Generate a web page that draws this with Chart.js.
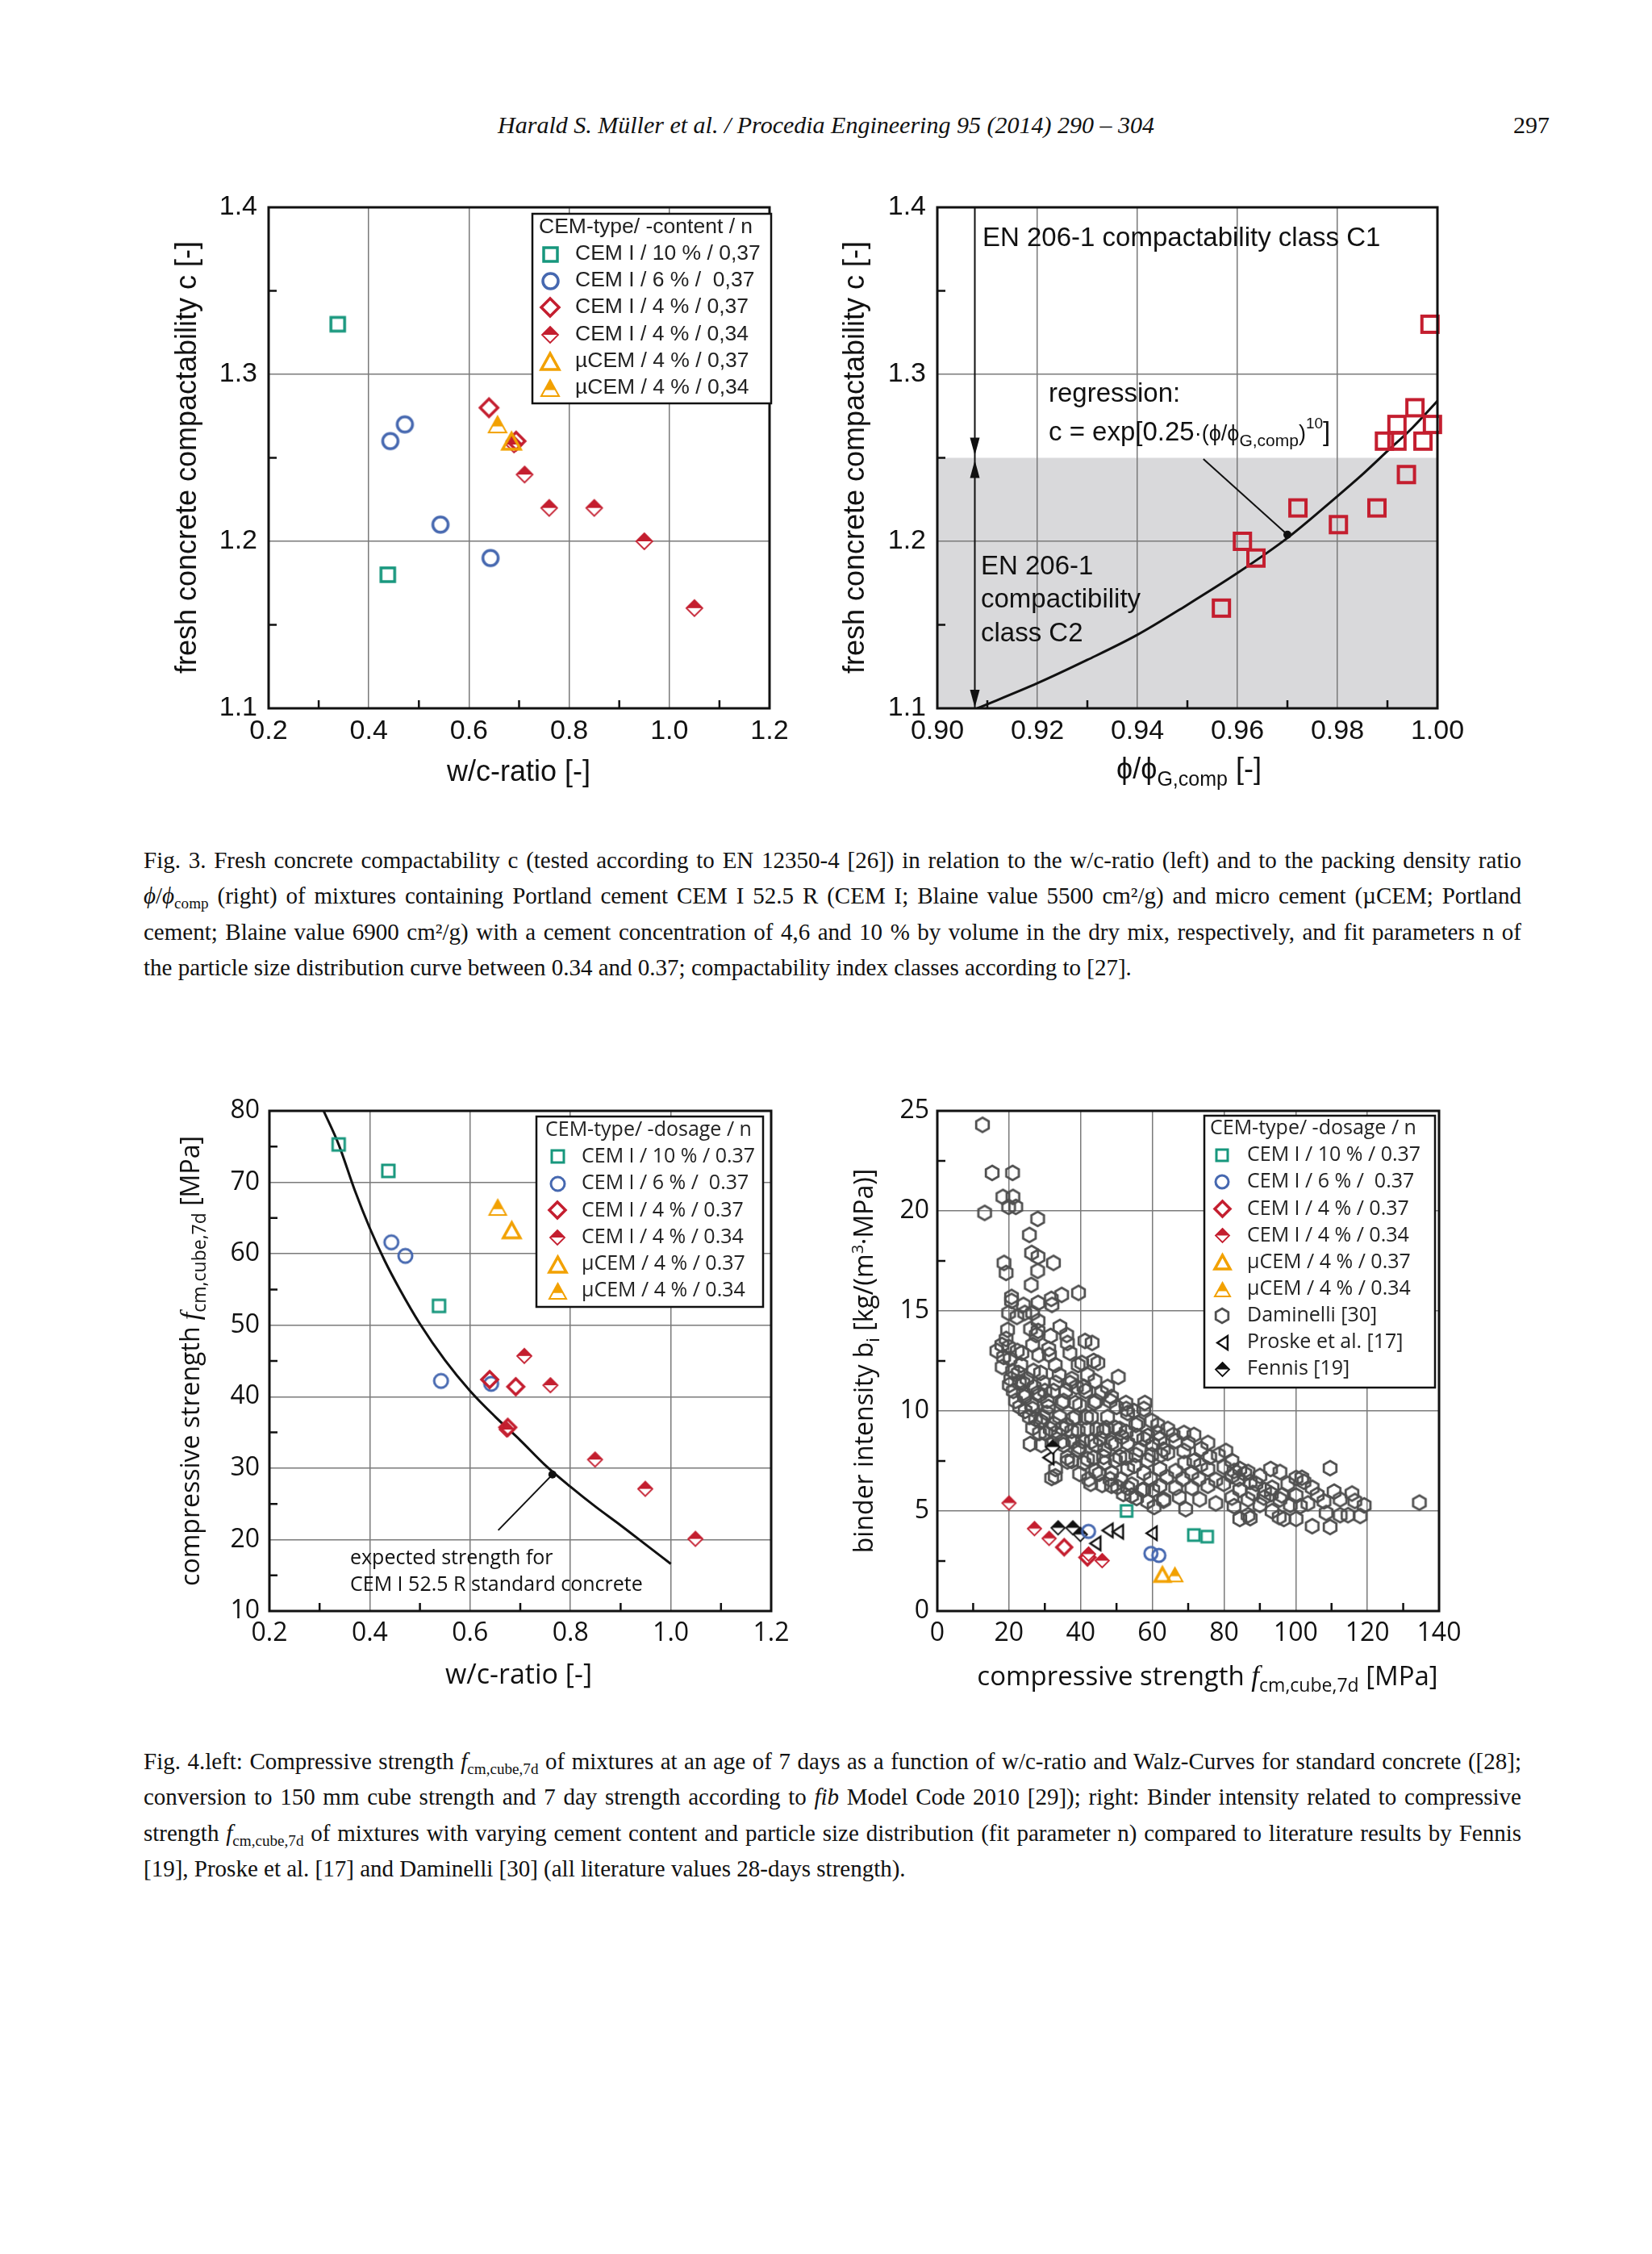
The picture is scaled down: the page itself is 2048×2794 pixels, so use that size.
<!DOCTYPE html>
<html><head><meta charset="utf-8">
<script src="https://cdn.jsdelivr.net/npm/chart.js@4.4.1/dist/chart.umd.min.js"></script>
<style>
html,body{margin:0;padding:0;background:#fff;}
body{width:2048px;height:2794px;position:relative;overflow:hidden;font-family:"Liberation Serif","Times New Roman",serif;color:#111;}
canvas{position:absolute;}
.hdr{position:absolute;top:137px;left:0;width:2048px;text-align:center;font-style:italic;font-size:30px;line-height:35px;}
.pg{position:absolute;top:137px;right:127px;font-size:30px;line-height:35px;}
.cap{position:absolute;left:178px;width:1708px;font-size:29px;}
.cap .l{white-space:nowrap;height:44.4px;line-height:44.4px;}
.cap sub{font-size:0.66em;vertical-align:-0.3em;line-height:0;}
</style></head>
<body>
<div class="hdr">Harald S. Müller et al. / Procedia Engineering 95 (2014) 290 – 304</div>
<div class="pg">297</div>

<canvas id="tl" width="860" height="840" style="left:150px;top:200px"></canvas>
<canvas id="tr" width="860" height="840" style="left:1010px;top:200px"></canvas>
<canvas id="bl" width="860" height="840" style="left:150px;top:1320px"></canvas>
<canvas id="br" width="860" height="840" style="left:1010px;top:1320px"></canvas>

<div class="cap" style="top:1044px">
<div class="l j">Fig. 3. Fresh concrete compactability c (tested according to EN 12350-4 [26]) in relation to the w/c-ratio (left) and to the packing density ratio</div>
<div class="l j"><i>ϕ</i>/<i>ϕ</i><sub>comp</sub> (right) of mixtures containing Portland cement CEM I 52.5 R (CEM I; Blaine value 5500 cm²/g) and micro cement (µCEM; Portland</div>
<div class="l j">cement; Blaine value 6900 cm²/g) with a cement concentration of 4,6 and 10 % by volume in the dry mix, respectively, and fit parameters n of</div>
<div class="l">the particle size distribution curve between 0.34 and 0.37; compactability index classes according to [27].</div>
</div>

<div class="cap" style="top:2161px">
<div class="l j">Fig. 4.left: Compressive strength <i>f</i><sub>cm,cube,7d</sub> of mixtures at an age of 7 days as a function of w/c-ratio and Walz-Curves for standard concrete ([28];</div>
<div class="l j">conversion to 150 mm cube strength and 7 day strength according to <i>fib</i> Model Code 2010 [29]); right: Binder intensity related to compressive</div>
<div class="l j">strength <i>f</i><sub>cm,cube,7d</sub> of mixtures with varying cement content and particle size distribution (fit parameter n) compared to literature results by Fennis</div>
<div class="l">[19], Proske et al. [17] and Daminelli [30] (all literature values 28-days strength).</div>
</div>

<script>
// ---------------- DATA ----------------
// Fig 3 left: compactability vs w/c
const tlCem10X = [0.338, 0.438];            const tlCem10Y = [1.33, 1.18];
const tlCem6X  = [0.443, 0.472, 0.543, 0.643]; const tlCem6Y = [1.26, 1.27, 1.21, 1.19];
const tlCem4oX = [0.640, 0.694];            const tlCem4oY = [1.28, 1.26];
const tlCem4hX = [0.690, 0.711, 0.760, 0.850, 0.950, 1.050]; const tlCem4hY = [1.258, 1.24, 1.22, 1.22, 1.20, 1.16];
const tlMu37X = [0.685]; const tlMu37Y = [1.26];
const tlMu34X = [0.657]; const tlMu34Y = [1.27];
const tlXTicks = [0.2, 0.4, 0.6, 0.8, 1.0, 1.2];
const tlYTicks = [1.1, 1.2, 1.3, 1.4];
const tlMinorX = [0.3, 0.5, 0.7, 0.9, 1.1];
const tlMinorY = [1.15, 1.25, 1.35];

// Fig 3 right: compactability vs packing density ratio
const trX = [0.9985, 0.9955, 0.999, 0.9919, 0.9894, 0.9919, 0.9971, 0.9938, 0.9879, 0.9721, 0.9802, 0.961, 0.9637, 0.9568];
const trY = [1.33, 1.28, 1.27, 1.27, 1.26, 1.26, 1.26, 1.24, 1.22, 1.22, 1.21, 1.20, 1.19, 1.16];
const trCurveX = [0.908, 0.92, 0.93, 0.94, 0.95, 0.96, 0.97, 0.98, 0.985, 0.99, 0.995, 1.00];
const trCurveY = [1.100, 1.115, 1.129, 1.144, 1.162, 1.181, 1.202, 1.227, 1.240, 1.254, 1.268, 1.284];
const trXTicks = [0.90, 0.92, 0.94, 0.96, 0.98, 1.00];
const trYTicks = [1.1, 1.2, 1.3, 1.4];
const trMinorX = [0.91, 0.93, 0.95, 0.97, 0.99];
const trMinorY = [1.15, 1.25, 1.35];
const trClassLimit = 1.25;

// Fig 4 left: compressive strength vs w/c
const blCem10X = [0.338, 0.437, 0.538]; const blCem10Y = [75.3, 71.6, 52.7];
const blCem6X = [0.443, 0.471, 0.542, 0.642]; const blCem6Y = [61.6, 59.7, 42.2, 41.8];
const blCem4oX = [0.639, 0.691, 0.675]; const blCem4oY = [42.4, 41.4, 35.7];
const blCem4hX = [0.708, 0.760, 0.849, 0.949, 1.049, 0.673]; const blCem4hY = [45.7, 41.6, 31.2, 27.1, 20.1, 35.4];
const blMu37X = [0.683]; const blMu37Y = [63.3];
const blMu34X = [0.655]; const blMu34Y = [66.5];
const walzX = [0.308, 0.338, 0.37, 0.40, 0.43, 0.46, 0.50, 0.55, 0.60, 0.65, 0.70, 0.75, 0.80, 0.85, 0.90, 0.95, 1.00];
const walzY = [80.0, 75.3, 68.9, 63.6, 59.0, 55.0, 50.2, 45.1, 40.8, 37.2, 33.9, 30.4, 27.4, 24.6, 22.0, 19.3, 16.6];
const blXTicks = [0.2, 0.4, 0.6, 0.8, 1.0, 1.2];
const blYTicks = [10, 20, 30, 40, 50, 60, 70, 80];
const blMinorX = [0.3, 0.5, 0.7, 0.9, 1.1];
const blMinorY = [15, 25, 35, 45, 55, 65, 75];

// Fig 4 right: binder intensity vs compressive strength
const brCem10X = [52.8, 71.6, 75.3]; const brCem10Y = [5.0, 3.8, 3.72];
const brCem6X = [42.2, 59.6, 61.8]; const brCem6Y = [3.98, 2.88, 2.78];
const brCem4oX = [35.4, 41.9]; const brCem4oY = [3.19, 2.68];
const brCem4hX = [20.0, 27.1, 31.2, 42.2, 46.0]; const brCem4hY = [5.4, 4.12, 3.63, 2.85, 2.52];
const brMu37X = [62.8]; const brMu37Y = [1.82];
const brMu34X = [66.3]; const brMu34Y = [1.82];
const proskeX = [31.0, 47.5, 50.4, 59.8, 44.1]; const proskeY = [7.67, 4.03, 3.96, 3.89, 3.38];
const fennisX = [32.2, 33.7, 37.8, 39.9]; const fennisY = [8.2, 4.16, 4.16, 3.83];
const daminelli = [
[12.6,24.3],[15.3,21.9],[21.0,21.9],[18.3,20.7],[21.1,20.7],[19.9,20.2],[21.9,20.2],[13.2,19.9],[28.0,19.6],[25.7,18.8],
[26.3,17.9],[28.1,17.7],[32.4,17.4],[18.6,17.4],[19.2,16.9],[28.0,17.0],[26.2,16.3],[39.4,15.9],[34.7,15.8],[20.7,15.7],
[20.7,15.5],[28.1,15.4],[31.8,15.6],[32.0,15.3],[19.9,14.9],[22.2,14.7],[24.4,14.9],[26.6,14.9],[28.1,14.5],[19.6,14.05],
[26.0,14.1],[28.1,14.0],[34.2,14.2],[36.1,13.8],[31.6,13.75],[19.2,13.6],[19.9,13.2],[16.6,13.0],[36.3,13.4],[41.2,13.5],
[43.2,13.4],[37.0,12.9],[31.1,13.1],[26.6,13.3],[23.6,12.9],[39.3,12.3],[43.6,12.5],[44.8,12.4],[18.1,12.2],[23.3,12.3],
[28.8,11.9],[32.9,12.3],[50.5,11.7],[24.0,15.3],[27.6,13.8],[22.3,13.0],[31.3,12.8],[28.3,12.8],[40.3,12.4],
[20.5,11.6],[22.9,11.4],[26.8,12.0],[29.6,11.4],[33.0,11.4],[37.5,11.6],[41.9,11.8],[21.2,11.0],[24.0,10.9],[28.5,10.8],
[32.4,11.0],[35.8,11.0],[41.4,11.0],[47.5,11.2],[21.8,10.5],[26.3,10.3],[30.7,10.5],[35.2,10.5],[39.7,10.3],[44.2,10.5],
[48.6,10.7],[52.6,10.4],[57.9,10.4],[25.7,9.7],[29.6,9.7],[34.1,9.7],[38.6,9.7],[43.0,9.7],[47.5,9.7],[53.1,9.9],
[57.6,10.1],[28.5,8.9],[33.0,8.9],[37.5,9.0],[41.9,9.1],[46.4,9.0],[50.9,9.1],[55.4,9.3],[59.8,9.5],[64.3,9.1],
[68.8,8.9],[71.6,8.8],[25.9,8.35],[35.2,8.3],[39.7,8.2],[44.2,8.3],[48.6,8.4],[53.1,8.4],[57.6,8.6],[62.1,8.6],
[66.5,8.5],[75.5,8.4],[80.5,8.0],[37.5,7.5],[41.9,7.6],[46.4,7.7],[50.9,7.7],[55.4,7.8],[59.8,7.8],[64.3,7.9],
[68.8,8.0],[71.6,7.5],[76.0,7.7],[82.2,7.5],[84.4,7.1],[31.9,6.65],[33.0,7.1],[39.7,6.85],[42.8,6.36],[44.2,7.0],
[48.6,6.9],[53.1,7.1],[57.6,6.9],[62.1,7.1],[66.5,7.0],[71.0,6.9],[75.5,7.1],[77.7,6.55],[82.2,6.75],[86.7,6.95],
[90.0,6.75],[93.0,7.1],[95.6,6.95],[48.6,6.26],[53.1,6.16],[57.6,6.06],[62.1,6.26],[66.5,6.16],[71.0,6.16],[75.5,6.26],
[79.9,6.36],[84.4,6.06],[88.9,6.36],[93.4,6.16],[97.8,6.36],[102.3,6.46],[100.1,6.65],[104.6,6.16],[109.6,7.14],[110.7,5.97],
[115.7,5.87],[54.2,5.77],[58.7,5.48],[63.2,5.58],[69.3,5.09],[73.2,5.58],[77.7,5.38],[82.2,5.67],[86.7,5.58],[91.1,5.67],
[95.6,5.58],[100.1,5.77],[103.4,5.38],[107.9,5.48],[112.4,5.58],[119.1,5.28],[134.5,5.42],[84.4,4.6],[86.7,4.79],[93.4,4.99],
[96.7,4.6],[100.1,4.6],[104.6,4.24],[109.6,4.2],[112.4,4.79],[114.6,4.79],[118.0,4.75],
[23.9,11.4],[28.1,10.9],[24.3,10.7],[26.6,10.1],[28.8,9.49],[31.0,10.2],[34.8,10.4],[37.0,11.4],[38.5,10.4],[40.9,11.2],
[43.8,10.4],[41.6,9.69],[48.2,10.5],[52.7,10.1],[26.6,9.15],[30.3,8.88],[32.5,9.35],[34.8,9.15],[37.8,9.62],[39.3,9.0],
[44.5,9.08],[47.1,9.15],[49.7,9.15],[52.7,8.95],[55.7,8.75],[58.7,8.75],[61.6,8.88],[34.8,8.48],[37.8,8.48],[39.3,8.07],
[43.0,8.48],[46.7,8.07],[49.7,8.34],[56.4,8.07],[60.1,8.34],[63.1,8.07],[36.3,7.67],[40.9,7.40],[43.7,7.67],[46.7,7.40],
[49.7,7.53],[52.7,7.67],[55.0,7.26],[58.7,7.53],[62.4,7.80],[42.2,6.59],[45.2,6.86],[48.2,6.59],[51.2,6.59],[54.2,6.32],
[57.2,6.05],[60.1,6.05],[63.1,5.51],[55.6,5.65],[51.9,5.85],[32.9,6.73],[36.3,7.47],
[101.7,6.66],[101.3,5.24],[95.4,4.70],[96.1,5.78],[93.2,5.85],[91.3,6.05],[87.3,6.46],[85.8,6.86],[87.3,4.64],[82.8,5.24],[82.8,7.0],
[18.0,13.3],[18.5,12.7],[20.3,12.6],[21.0,12.0],[20.1,11.3],[22.6,11.9],[25.0,11.6],[27.0,11.2],[30.0,11.0],[34.0,11.8],
[38.8,11.2],[44.0,11.5],[45.8,10.9],[50.0,10.2],[54.8,10.0],[56.0,9.4],[61.5,9.3],[65.8,8.8],[70.0,8.4],[73.6,8.1],
[78.4,7.8],[80.0,7.2],[84.0,6.6],[88.0,5.9],[90.0,5.3],[98.5,5.3],[106.0,5.8],[108.5,4.9],[116.5,5.5],[31.5,9.1],
[36.0,9.3],[27.4,9.6],[30.5,9.9],[24.5,10.0],[23.0,10.2],[32.0,8.4],[29.0,8.3],[45.5,8.6],[51.5,8.7],[40.5,8.5],
[46.0,6.3],[50.3,6.2],[59.5,6.6],[64.0,6.7],[68.5,6.6],[73.0,6.6],[67.5,5.7],[60.5,5.2],[69.0,7.4],[73.5,7.3]
];
const brXTicks = [0, 20, 40, 60, 80, 100, 120, 140];
const brYTicks = [0, 5, 10, 15, 20, 25];
const brMinorX = [10, 30, 50, 70, 90, 110, 130];
const brMinorY = [2.5, 7.5, 12.5, 17.5, 22.5];

// ---------------- STYLE ----------------
const TEAL = '#17977d', BLUE = '#4668b0', RED = '#c41e2f', ORANGE = '#f2a100', GRAY = '#505050', BLK = '#111';
const SANS_T = '"Liberation Sans", Arial, sans-serif';
const SANS_B = '"Open Sans", "Noto Sans", sans-serif';
const SERIF = '"Liberation Serif", "Times New Roman", serif';
const OFF = {tl:{x:150,y:200}, tr:{x:1010,y:200}, bl:{x:150,y:1320}, br:{x:1010,y:1320}};

function mk(shape, size, color, lw){
  const pad = Math.ceil(lw) + 2;
  const dim = Math.ceil(size) + 2*pad;
  const cv = document.createElement('canvas'); cv.width = dim; cv.height = dim;
  const g = cv.getContext('2d'); const h = dim/2, r = size/2;
  g.lineWidth = lw; g.strokeStyle = color; g.fillStyle = color; g.lineJoin = 'miter';
  const poly = p => { g.beginPath(); p.forEach((q,i)=> i ? g.lineTo(h+q[0],h+q[1]) : g.moveTo(h+q[0],h+q[1])); g.closePath(); };
  const dia = [[0,-r],[r,0],[0,r],[-r,0]];
  const th = size*0.9; const tri = [[0,-th/2],[r,th/2],[-r,th/2]];
  switch(shape){
    case 'square': g.strokeRect(h-r,h-r,size,size); break;
    case 'circle': g.beginPath(); g.arc(h,h,r,0,Math.PI*2); g.stroke(); break;
    case 'diamond': poly(dia); g.stroke(); break;
    case 'halfDiamond': poly(dia); g.fillStyle='#fff'; g.fill(); g.fillStyle=color; poly([[0,-r],[r,0],[-r,0]]); g.fill(); poly(dia); g.stroke(); break;
    case 'triangle': poly(tri); g.stroke(); break;
    case 'halfTriangle': { poly(tri); g.fillStyle='#fff'; g.fill(); g.fillStyle=color; const f=0.62; poly([[0,-th/2],[r*f,-th/2+th*f],[-r*f,-th/2+th*f]]); g.fill(); poly(tri); g.stroke(); break; }
    case 'hexagon': poly([0,1,2,3,4,5].map(k=>{const a=-Math.PI/2+k*Math.PI/3; return [r*Math.cos(a), r*Math.sin(a)];})); g.stroke(); break;
    case 'leftTriangle': poly([[-r*0.75,0],[r*0.75,-r],[r*0.75,r]]); g.stroke(); break;
  }
  return cv;
}

function fontStr(s){ return (s.style||'normal')+' '+s.size+'px '+(s.family); }
function drawRich(ctx, segs, x, y, rot, align){
  ctx.save();
  let w = 0;
  segs.forEach(s => { ctx.font = fontStr(s); s._w = ctx.measureText(s.t).width; w += s._w; });
  ctx.translate(x, y);
  if (rot) ctx.rotate(-Math.PI/2);
  let cx = align === 'left' ? 0 : -w/2;
  ctx.textBaseline = 'alphabetic'; ctx.textAlign = 'left'; ctx.fillStyle = BLK;
  segs.forEach(s => { ctx.font = fontStr(s); ctx.fillText(s.t, cx, s.dy||0); cx += s._w; });
  ctx.restore();
}
function drawLegend(ctx, L, off){
  ctx.save();
  ctx.fillStyle = '#fff'; ctx.fillRect(L.x-off.x, L.y-off.y, L.w, L.h);
  ctx.lineWidth = 2.5; ctx.strokeStyle = BLK; ctx.strokeRect(L.x-off.x, L.y-off.y, L.w, L.h);
  ctx.font = L.font; ctx.textBaseline = 'middle'; ctx.textAlign = 'left'; ctx.fillStyle = '#222';
  ctx.fillText(L.title, L.titleX-off.x, L.titleY-off.y);
  L.items.forEach((it,i)=>{
    ctx.drawImage(it.m, Math.round(L.symX-off.x-it.m.width/2), Math.round(L.rows[i]-off.y-it.m.height/2));
    ctx.fillText(it.label, L.textX-off.x, L.rows[i]-off.y);
  });
  ctx.restore();
}
function minor(c, xs, ys, len){
  const ctx = c.ctx, a = c.chartArea, sx = c.scales.x, sy = c.scales.y;
  ctx.save(); ctx.strokeStyle = BLK; ctx.lineWidth = 2.5; ctx.beginPath();
  xs.forEach(v=>{ const p = sx.getPixelForValue(v); ctx.moveTo(p, a.bottom); ctx.lineTo(p, a.bottom-len); });
  ys.forEach(v=>{ const p = sy.getPixelForValue(v); ctx.moveTo(a.left, p); ctx.lineTo(a.left+len, p); });
  ctx.stroke(); ctx.restore();
}
function frame(c){
  const ctx = c.ctx, a = c.chartArea;
  ctx.save(); ctx.strokeStyle = BLK; ctx.lineWidth = 3; ctx.strokeRect(a.left, a.top, a.right-a.left, a.bottom-a.top); ctx.restore();
}
function pointer(c, x0, y0, x1, y1){
  const ctx = c.ctx, sx = c.scales.x, sy = c.scales.y;
  const X0 = sx.getPixelForValue(x0), Y0 = sy.getPixelForValue(y0), X1 = sx.getPixelForValue(x1), Y1 = sy.getPixelForValue(y1);
  ctx.save(); ctx.strokeStyle = BLK; ctx.fillStyle = BLK; ctx.lineWidth = 2;
  ctx.beginPath(); ctx.moveTo(X0,Y0); ctx.lineTo(X1,Y1); ctx.stroke();
  ctx.beginPath(); ctx.arc(X1,Y1,5,0,Math.PI*2); ctx.fill(); ctx.restore();
}

function scaleCfg(o){
  return {
    type:'linear', min:o.min, max:o.max,
    afterBuildTicks: s => { s.ticks = o.ticks.map(v => ({value:v})); },
    afterFit: s => { if (o.horiz) s.height = o.size; else s.width = o.size; },
    grid: { color: '#7a7a7a', lineWidth: 1.5, drawTicks: false },
    border: { display: false },
    ticks: { autoSkip:false, maxRotation:0, minRotation:0, padding:o.pad, color:BLK, font:o.font, callback: v => o.fmt(v) }
  };
}
const pts = (xs, ys) => xs.map((x,i) => ({x, y:ys[i]}));
const ds = (data, m, order) => ({data, pointStyle:m, pointRadius:8, pointHoverRadius:8, showLine:false, clip:false, order:order||0});
const curve = (data, order) => ({data, showLine:true, borderColor:BLK, borderWidth:3, pointRadius:0, cubicInterpolationMode:'monotone', fill:false, order:order||5});

function baseOpts(padTop, padRight){
  return {
    responsive:false, animation:false, devicePixelRatio:1, events:[],
    layout:{ padding:{ left:0, top:padTop, right:padRight, bottom:0 } },
    plugins:{ legend:{display:false}, tooltip:{enabled:false} }
  };
}

// ---------------- TOP LEFT ----------------
(function(){
  const M = {
    sq: mk('square',17,TEAL,3.5), ci: mk('circle',19,BLUE,3.5), di: mk('diamond',22,RED,3.5),
    hd: mk('halfDiamond',20,RED,1.8), tr: mk('triangle',22,ORANGE,3.5), ht: mk('halfTriangle',22,ORANGE,2)
  };
  const off = OFF.tl;
  const opts = baseOpts(57, 56);
  const f = {family:SANS_T, size:34};
  opts.scales = {
    x: scaleCfg({min:0.2, max:1.2, ticks:tlXTicks, fmt:v=>v.toFixed(1), horiz:true, size:162, pad:8, font:f}),
    y: scaleCfg({min:1.1, max:1.4, ticks:tlYTicks, fmt:v=>v.toFixed(1), horiz:false, size:183, pad:14, font:f})
  };
  const L = { x:660, y:265, w:296, h:235, font:'26.5px '+SANS_T, title:'CEM-type/ -content / n', titleX:668, titleY:282,
    symX:682, textX:713, rows:[315,348,381,415,448,481],
    items:[{m:M.sq,label:'CEM I / 10 % / 0,37'},{m:M.ci,label:'CEM I / 6 % /  0,37'},{m:M.di,label:'CEM I / 4 % / 0,37'},
           {m:M.hd,label:'CEM I / 4 % / 0,34'},{m:M.tr,label:'µCEM / 4 % / 0,37'},{m:M.ht,label:'µCEM / 4 % / 0,34'}]};
  new Chart(document.getElementById('tl'), {
    type:'scatter',
    data:{ datasets:[ ds(pts(tlCem10X,tlCem10Y),M.sq), ds(pts(tlCem6X,tlCem6Y),M.ci), ds(pts(tlCem4hX,tlCem4hY),M.hd,2),
                      ds(pts(tlCem4oX,tlCem4oY),M.di,1), ds(pts(tlMu37X,tlMu37Y),M.tr), ds(pts(tlMu34X,tlMu34Y),M.ht) ] },
    options: opts,
    plugins:[{ id:'deco', afterDraw(c){
      const ctx = c.ctx;
      minor(c, tlMinorX, tlMinorY, 10); frame(c); drawLegend(ctx, L, off);
      drawRich(ctx, [{t:'fresh concrete compactability c [-]', size:36, family:SANS_T}], 243-off.x, 567-off.y, true);
      drawRich(ctx, [{t:'w/c-ratio [-]', size:36, family:SANS_T}], 643-off.x, 968-off.y, false);
    }}]
  });
})();

// ---------------- TOP RIGHT ----------------
(function(){
  const sq = mk('square',20,RED,4);
  const off = OFF.tr;
  const opts = baseOpts(57, 88);
  const f = {family:SANS_T, size:34};
  opts.scales = {
    x: scaleCfg({min:0.9, max:1.0, ticks:trXTicks, fmt:v=>v.toFixed(2), horiz:true, size:162, pad:8, font:f}),
    y: scaleCfg({min:1.1, max:1.4, ticks:trYTicks, fmt:v=>v.toFixed(1), horiz:false, size:152, pad:14, font:f})
  };
  new Chart(document.getElementById('tr'), {
    type:'scatter',
    data:{ datasets:[ ds(pts(trX,trY),sq,0), curve(pts(trCurveX,trCurveY),5) ] },
    options: opts,
    plugins:[{ id:'deco',
      beforeDraw(c){
        const ctx = c.ctx, a = c.chartArea, sy = c.scales.y;
        const yT = sy.getPixelForValue(trClassLimit);
        ctx.save(); ctx.fillStyle = '#d9d9db'; ctx.fillRect(a.left, yT, a.right-a.left, a.bottom-yT); ctx.restore();
      },
      afterDraw(c){
        const ctx = c.ctx, sx = c.scales.x, sy = c.scales.y;
        minor(c, trMinorX, trMinorY, 10);
        const ax = sx.getPixelForValue(0.9075), yTop = sy.getPixelForValue(1.4), yMid = sy.getPixelForValue(1.25), yBot = sy.getPixelForValue(1.1);
        ctx.save(); ctx.strokeStyle = BLK; ctx.fillStyle = BLK; ctx.lineWidth = 2;
        ctx.beginPath(); ctx.moveTo(ax, yTop); ctx.lineTo(ax, yBot); ctx.stroke();
        const head = (y, dir) => { ctx.beginPath(); ctx.moveTo(ax, y); ctx.lineTo(ax-6, y-dir*22); ctx.lineTo(ax+6, y-dir*22); ctx.closePath(); ctx.fill(); };
        head(yMid-3, 1); head(yMid+3, -1); head(yBot-1, 1);
        ctx.restore();
        pointer(c, 0.9532, 1.2493, 0.970, 1.204);
        frame(c);
        const T = s => ({t:s, size:33, family:SANS_T});
        drawRich(ctx, [T('EN 206-1 compactability class C1')], 1218-off.x, 305-off.y, false, 'left');
        drawRich(ctx, [T('regression:')], 1300-off.x, 498-off.y, false, 'left');
        drawRich(ctx, [T('c = exp[0.25'), {t:'·(ϕ/ϕ', size:27, family:SANS_T}, {t:'G,comp', size:21, family:SANS_T, dy:7},
                       {t:')', size:27, family:SANS_T}, {t:'10', size:19, family:SANS_T, dy:-15}, T(']')], 1300-off.x, 546-off.y, false, 'left');
        drawRich(ctx, [T('EN 206-1')], 1216-off.x, 712-off.y, false, 'left');
        drawRich(ctx, [T('compactibility')], 1216-off.x, 753-off.y, false, 'left');
        drawRich(ctx, [T('class C2')], 1216-off.x, 795-off.y, false, 'left');
        drawRich(ctx, [{t:'fresh concrete compactability c [-]', size:36, family:SANS_T}], 1071-off.x, 567-off.y, true);
        drawRich(ctx, [{t:'ϕ/ϕ', size:36, family:SANS_T}, {t:'G,comp', size:25, family:SANS_T, dy:9}, {t:' [-]', size:36, family:SANS_T}], 1474-off.x, 965-off.y, false);
      }}]
  });
})();

// ---------------- BOTTOM LEFT ----------------
(function(){
  const M = {
    sq: mk('square',15,TEAL,3), ci: mk('circle',17,BLUE,3), di: mk('diamond',20,RED,3.5),
    hd: mk('halfDiamond',18,RED,1.8), tr: mk('triangle',21,ORANGE,3.5), ht: mk('halfTriangle',21,ORANGE,2)
  };
  const off = OFF.bl;
  const opts = baseOpts(57, 54);
  const f = {family:SANS_B, size:32};
  opts.scales = {
    x: scaleCfg({min:0.2, max:1.2, ticks:blXTicks, fmt:v=>v.toFixed(1), horiz:true, size:163, pad:9, font:f}),
    y: scaleCfg({min:10, max:80, ticks:blYTicks, fmt:v=>String(v), horiz:false, size:184, pad:12, font:f})
  };
  const L = { x:665, y:1384, w:281, h:236, font:'25px '+SANS_B, title:'CEM-type/ -dosage / n', titleX:676, titleY:1401,
    symX:691, textX:721, rows:[1433.5,1467,1500.4,1534,1567,1600],
    items:[{m:M.sq,label:'CEM I / 10 % / 0.37'},{m:M.ci,label:'CEM I / 6 % /  0.37'},{m:M.di,label:'CEM I / 4 % / 0.37'},
           {m:M.hd,label:'CEM I / 4 % / 0.34'},{m:M.tr,label:'µCEM / 4 % / 0.37'},{m:M.ht,label:'µCEM / 4 % / 0.34'}]};
  new Chart(document.getElementById('bl'), {
    type:'scatter',
    data:{ datasets:[ ds(pts(blCem10X,blCem10Y),M.sq,1), ds(pts(blCem6X,blCem6Y),M.ci,2), ds(pts(blCem4hX,blCem4hY),M.hd,1),
                      ds(pts(blCem4oX,blCem4oY),M.di,0), ds(pts(blMu37X,blMu37Y),M.tr,0), ds(pts(blMu34X,blMu34Y),M.ht,0),
                      curve(pts(walzX,walzY),5) ] },
    options: opts,
    plugins:[{ id:'deco', afterDraw(c){
      const ctx = c.ctx;
      minor(c, blMinorX, blMinorY, 10);
      pointer(c, 0.656, 21.3, 0.764, 29.1);
      frame(c); drawLegend(ctx, L, off);
      drawRich(ctx, [{t:'expected strength for', size:25, family:SANS_B}], 434-off.x, 1939-off.y, false, 'left');
      drawRich(ctx, [{t:'CEM I 52.5 R standard concrete', size:25, family:SANS_B}], 434-off.x, 1972-off.y, false, 'left');
      drawRich(ctx, [{t:'compressive strength ', size:32, family:SANS_B}, {t:'f', size:34, family:SERIF, style:'italic'},
                     {t:'cm,cube,7d', size:23, family:SANS_B, dy:8}, {t:' [MPa]', size:32, family:SANS_B}], 247-off.x, 1687-off.y, true);
      drawRich(ctx, [{t:'w/c-ratio [-]', size:34, family:SANS_B}], 643-off.x, 2087-off.y, false);
    }}]
  });
})();

// ---------------- BOTTOM RIGHT ----------------
(function(){
  const M = {
    sq: mk('square',14,TEAL,3), ci: mk('circle',16,BLUE,3), di: mk('diamond',19,RED,3.5),
    hd: mk('halfDiamond',17,RED,1.8), tr: mk('triangle',19,ORANGE,3.5), ht: mk('halfTriangle',19,ORANGE,2),
    hx: mk('hexagon',18,GRAY,2.8), lt: mk('leftTriangle',17,BLK,2.5), fe: mk('halfDiamond',17,BLK,1.8)
  };
  const off = OFF.br;
  const opts = baseOpts(57, 86);
  const f = {family:SANS_B, size:32};
  opts.scales = {
    x: scaleCfg({min:0, max:140, ticks:brXTicks, fmt:v=>String(v), horiz:true, size:163, pad:9, font:f}),
    y: scaleCfg({min:0, max:25, ticks:brYTicks, fmt:v=>String(v), horiz:false, size:152, pad:10, font:f})
  };
  const L = { x:1493, y:1383, w:286, h:337, font:'25px '+SANS_B, title:'CEM-type/ -dosage / n', titleX:1500, titleY:1399,
    symX:1515, textX:1546, rows:[1432,1465,1498.5,1531.5,1564.4,1598,1631,1664,1697],
    items:[{m:M.sq,label:'CEM I / 10 % / 0.37'},{m:M.ci,label:'CEM I / 6 % /  0.37'},{m:M.di,label:'CEM I / 4 % / 0.37'},
           {m:M.hd,label:'CEM I / 4 % / 0.34'},{m:M.tr,label:'µCEM / 4 % / 0.37'},{m:M.ht,label:'µCEM / 4 % / 0.34'},
           {m:M.hx,label:'Daminelli [30]'},{m:M.lt,label:'Proske et al. [17]'},{m:M.fe,label:'Fennis [19]'}]};
  const dam = daminelli.map(p => ({x:p[0], y:p[1]}));
  new Chart(document.getElementById('br'), {
    type:'scatter',
    data:{ datasets:[ ds(dam,M.hx,10), ds(pts(proskeX,proskeY),M.lt,3), ds(pts(fennisX,fennisY),M.fe,2),
                      ds(pts(brCem10X,brCem10Y),M.sq,1), ds(pts(brCem6X,brCem6Y),M.ci,1), ds(pts(brCem4oX,brCem4oY),M.di,1),
                      ds(pts(brCem4hX,brCem4hY),M.hd,0), ds(pts(brMu37X,brMu37Y),M.tr,0), ds(pts(brMu34X,brMu34Y),M.ht,0) ] },
    options: opts,
    plugins:[{ id:'deco', afterDraw(c){
      const ctx = c.ctx;
      minor(c, brMinorX, brMinorY, 10);
      frame(c); drawLegend(ctx, L, off);
      drawRich(ctx, [{t:'binder intensity b', size:32, family:SANS_B}, {t:'i', size:22, family:SANS_B, dy:8},
                     {t:' [kg/(m', size:32, family:SANS_B}, {t:'3', size:20, family:SANS_B, dy:-12}, {t:'·MPa)]', size:32, family:SANS_B}],
               1082-off.x, 1687-off.y, true);
      drawRich(ctx, [{t:'compressive strength ', size:33, family:SANS_B}, {t:'f', size:35, family:SERIF, style:'italic'},
                     {t:'cm,cube,7d', size:23, family:SANS_B, dy:8}, {t:' [MPa]', size:33, family:SANS_B}], 1497-off.x, 2089-off.y, false);
    }}]
  });
})();

// ---------------- caption justification ----------------
document.querySelectorAll('.j').forEach(el => {
  const span = document.createElement('span');
  while (el.firstChild) span.appendChild(el.firstChild);
  el.appendChild(span);
  const w = span.getBoundingClientRect().width;
  const n = (span.textContent.match(/ /g) || []).length;
  if (n) el.style.wordSpacing = ((1708 - w) / n) + 'px';
});
</script>
</body></html>
